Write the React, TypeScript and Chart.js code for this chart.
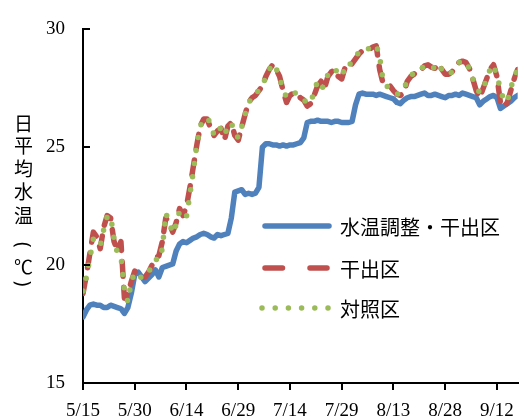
import React, { useEffect, useRef } from "react";
import { Chart, registerables } from "chart.js";

Chart.register(...registerables);

// x tick labels (every 15 days starting 5/15)
const xTickLabels = ["5/15", "5/30", "6/14", "6/29", "7/14", "7/29", "8/13", "8/28", "9/12"];
const yTickValues = [15, 20, 25, 30];
const seriesNames = ["水温調整・干出区", "干出区", "対照区"];
const yTitleChars = ["日", "平", "均", "水", "温", "(", "℃", ")"];

// daily mean water temperature, day 0 = 5/15
const adjusted = [
  17.8, 18.1, 18.3, 18.35, 18.3, 18.3, 18.2, 18.2, 18.3, 18.25,
  18.2, 18.15, 17.95, 18.2, 18.8, 19.6, 19.7, 19.5, 19.3, 19.45,
  19.6, 19.8, 19.5, 19.9, 19.95, 20.0, 20.05, 20.6, 20.9, 21.0,
  20.95, 21.05, 21.15, 21.2, 21.3, 21.35, 21.3, 21.2, 21.15, 21.3,
  21.25, 21.3, 21.35, 22.0, 23.1, 23.15, 23.2, 23.0, 23.05, 23.0,
  23.05, 23.3, 25.0, 25.15, 25.15, 25.1, 25.1, 25.05, 25.1, 25.05,
  25.1, 25.1, 25.15, 25.2, 25.4, 26.05, 26.1, 26.1, 26.15, 26.1,
  26.1, 26.1, 26.05, 26.1, 26.1, 26.05, 26.05, 26.05, 26.1, 26.8,
  27.25, 27.3, 27.25, 27.25, 27.25, 27.2, 27.25, 27.2, 27.15, 27.1,
  27.05, 26.9, 26.85, 27.0, 27.1, 27.15, 27.15, 27.2, 27.25, 27.3,
  27.2, 27.2, 27.25, 27.2, 27.15, 27.1, 27.2, 27.2, 27.25, 27.2,
  27.3, 27.25, 27.2, 27.15, 27.1, 26.8, 26.95, 27.05, 27.15, 27.2,
  27.1, 26.65, 26.75, 26.85, 26.95, 27.1, 27.2,
];

const drained = [
  18.8, 19.6, 20.5, 21.4, 21.2, 20.7, 21.6, 22.1, 22.0, 21.0,
  20.6, 21.0, 18.6, 18.8, 19.3, 19.75, 19.6, 19.45, 19.5, 19.7,
  20.0, 20.3, 20.4, 21.0, 22.0, 21.8, 21.4, 21.8, 22.4, 22.1,
  22.5, 23.3, 24.2, 25.1, 25.9, 26.2, 26.2, 25.8, 25.5, 25.7,
  25.8, 25.3, 25.9, 26.05, 25.5, 25.3, 25.85, 26.4, 26.9, 27.1,
  27.2, 27.4, 27.6, 28.0, 28.3, 28.5, 28.3, 28.0, 27.4, 26.9,
  27.2, 27.3, 27.3, 27.1, 27.0, 26.75, 26.85, 27.2, 27.6, 27.8,
  27.5, 28.0, 28.2, 28.3, 28.0, 27.9, 28.4, 28.35, 28.55, 28.75,
  28.95, 29.1, 29.1, 29.15, 29.25, 29.3, 28.3, 27.7, 27.6, 27.6,
  27.4, 27.25, 27.2, 27.3, 27.8, 28.0, 28.1, 28.3, 28.3, 28.45,
  28.5, 28.4, 28.35, 28.55, 28.3, 28.1, 28.1, 28.2, 28.4, 28.6,
  28.65, 28.6, 28.35, 27.9, 27.4, 27.1, 27.5, 27.9, 28.3, 28.5,
  28.0, 26.9, 26.7, 26.9, 27.4, 27.9, 28.3,
];

const control = [
  18.9, 19.5, 20.3, 21.1, 21.0, 20.8, 21.5, 22.05, 22.1, 21.1,
  20.5, 20.4, 18.9, 18.45, 19.3, 19.7, 19.6, 19.45, 19.5, 19.7,
  20.0, 20.25, 20.2, 20.7, 22.2, 21.85, 21.35, 21.7, 22.3, 22.1,
  22.05, 23.0, 24.0, 25.1, 25.9, 26.2, 26.25, 26.0, 25.5, 25.8,
  25.8, 25.5, 25.9, 26.05, 25.6, 25.4, 25.85, 26.4, 26.85, 27.15,
  27.2, 27.45, 27.6, 28.0, 28.3, 28.55, 28.35, 27.9, 27.5, 27.1,
  27.2, 27.3, 27.3, 27.1, 27.0, 26.9, 26.85, 27.4, 27.8, 27.5,
  27.6, 28.1, 28.2, 28.35, 28.1, 28.0, 28.4, 28.35, 28.75, 28.9,
  29.0, 29.15, 29.1, 29.2, 29.3, 29.35, 28.85, 27.8, 27.6, 27.5,
  27.4, 27.25, 27.3, 27.4, 27.9, 28.0, 28.2, 28.3, 28.3, 28.5,
  28.5, 28.4, 28.35, 28.55, 28.3, 28.1, 28.1, 28.2, 28.45, 28.6,
  28.7, 28.6, 28.35, 27.9, 27.6, 27.3, 27.5, 27.9, 28.3, 28.5,
  28.0, 27.5, 26.95, 26.95, 27.5, 28.0, 28.3,
];

const BLUE = "#4F81BD";
const RED = "#C0504D";
const GREEN = "#9BBB59";
const LW = 5.5;
const RED_DASH_PLOT = [15, 11];
const RED_DASH_LEGEND = [17.5, 27.5];
const GREEN_DOT = [0, 13.2];

const TITLE_Y = [123, 145, 168, 191, 215, 245, 266, 284];

const decoPlugin = {
  id: "deco",
  afterDraw(chart: any) {
    const { ctx, chartArea, scales } = chart;
    ctx.save();
    // inner y tick marks
    ctx.strokeStyle = "#000";
    ctx.lineWidth = 2;
    ctx.setLineDash([]);
    for (const v of yTickValues) {
      const y = Math.round(scales.y.getPixelForValue(v));
      ctx.beginPath();
      ctx.moveTo(chartArea.left, y);
      ctx.lineTo(chartArea.left + 7, y);
      ctx.stroke();
    }

    // legend
    const rows = [226, 268, 308];
    const styles = [
      { color: BLUE, dash: [] as number[], x0: 265, x1: 329 },
      { color: RED, dash: RED_DASH_LEGEND, x0: 265, x1: 327 },
      { color: GREEN, dash: GREEN_DOT, x0: 262, x1: 332 },
    ];
    ctx.lineCap = "round";
    styles.forEach((s, i) => {
      ctx.strokeStyle = s.color;
      ctx.lineWidth = LW;
      ctx.setLineDash(s.dash);
      ctx.beginPath();
      ctx.moveTo(s.x0, rows[i]);
      ctx.lineTo(s.x1, rows[i]);
      ctx.stroke();
    });
    ctx.setLineDash([]);
    ctx.fillStyle = "#000";
    ctx.font = '20px "Noto Sans CJK JP"';
    ctx.textAlign = "left";
    ctx.textBaseline = "middle";
    seriesNames.forEach((n, i) => ctx.fillText(n, 340, rows[i] + 1));
    ctx.restore();
  },
};

export default function App() {
  const ref = useRef<HTMLCanvasElement>(null);
  useEffect(() => {
    if (!ref.current) return;
    const mk = (arr: number[]) => arr.map((y, i) => ({ x: i, y }));
    const chart = new Chart(ref.current, {
      type: "line",
      data: {
        datasets: [
          {
            label: seriesNames[0],
            data: mk(adjusted),
            borderColor: BLUE,
            backgroundColor: BLUE,
            borderWidth: LW,
            pointRadius: 0,
            tension: 0,
            borderCapStyle: "round",
            borderJoinStyle: "round",
            order: 3,
          },
          {
            label: seriesNames[1],
            data: mk(drained),
            borderColor: RED,
            backgroundColor: RED,
            borderWidth: LW,
            borderDash: RED_DASH_PLOT,
            pointRadius: 0,
            tension: 0,
            borderCapStyle: "round",
            borderJoinStyle: "round",
            order: 2,
          },
          {
            label: seriesNames[2],
            data: mk(control),
            borderColor: GREEN,
            backgroundColor: GREEN,
            borderWidth: LW,
            borderDash: GREEN_DOT,
            pointRadius: 0,
            tension: 0,
            borderCapStyle: "round",
            borderJoinStyle: "round",
            order: 1,
          },
        ],
      },
      options: {
        animation: false,
        responsive: false,
        devicePixelRatio: 1,
        layout: { padding: { top: 22, right: 3, left: 0, bottom: 0 } },
        plugins: { legend: { display: false }, tooltip: { enabled: false } },
        scales: {
          x: {
            type: "linear",
            min: 0,
            max: adjusted.length - 1,
            afterFit: (s: any) => {
              s.height = 36;
            },
            border: { color: "#000", width: 2 },
            grid: { drawOnChartArea: false, drawTicks: true, tickLength: 7, color: "#000", lineWidth: 2 },
            ticks: {
              stepSize: 15,
              includeBounds: false,
              autoSkip: false,
              maxRotation: 0,
              color: "#000",
              padding: 10,
              font: { family: '"Liberation Serif"', size: 19 },
              callback: (v: any) => xTickLabels[Math.round(Number(v) / 15)] ?? "",
            },
          },
          y: {
            min: 15,
            max: 30,
            afterFit: (s: any) => {
              s.width = 83;
            },
            border: { color: "#000", width: 2 },
            grid: { display: false, drawTicks: false },
            ticks: {
              stepSize: 5,
              color: "#000",
              padding: 18,
              font: { family: '"Liberation Serif"', size: 19 },
            },
          },
        },
      } as any,
      plugins: [decoPlugin],
    });
    return () => chart.destroy();
  }, []);
  return (
    <div style={{ position: "absolute", left: 0, top: 0, width: 524, height: 419 }}>
      <canvas ref={ref} width={524} height={419} style={{ display: "block" }} />
      {yTitleChars.map((c, i) => {
        const paren = c === "(" || c === ")";
        return (
          <div
            key={i}
            style={{
              position: "absolute",
              left: 13,
              top: paren ? TITLE_Y[i] - 4 : TITLE_Y[i] - 9.5,
              width: 20,
              lineHeight: "20px",
              writingMode: "vertical-rl",
              textOrientation: paren ? "mixed" : "upright",
              fontFamily: paren ? '"DejaVu Sans"' : '"Noto Sans CJK JP"',
              fontSize: 19,
              color: "#000",
              whiteSpace: "nowrap",
            }}
          >
            {c}
          </div>
        );
      })}
    </div>
  );
}
